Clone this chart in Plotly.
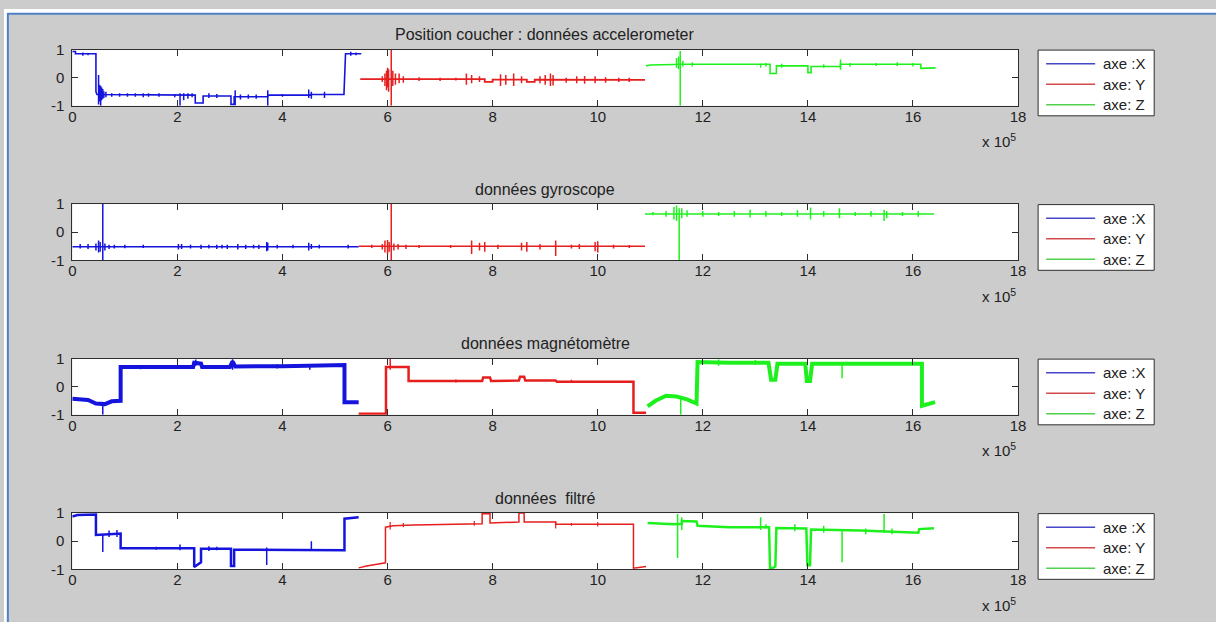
import plotly.graph_objects as go

# ---------------- data (x in units of 10^5 samples) ----------------
SUBPLOT_TITLES = ["Position coucher : données accelerometer", "données gyroscope",
                  "données magnétomètre", "données  filtré"]
LEGEND_NAMES = ["axe :X", "axe: Y", "axe: Z"]
X_TICKS = [0, 2, 4, 6, 8, 10, 12, 14, 16, 18]
Y_TICKS = [-1, 0, 1]
Y_TICK_TEXT = ["-1", "0", "1"]

# --- accelerometer ---
ACC_X_PX = [0, 0.06, 0.06, 0.45, 0.45, 0.47, 2.34, 2.34, 2.49, 2.49, 3.02, 3.02, 3.08, 3.08, 3.72, 3.72, 4.53, 4.53, 5.17, 5.2, 5.5]
ACC_X_PY = [0.93, 0.93, 0.85, 0.85, -0.5, -0.6, -0.62, -0.9, -0.9, -0.65, -0.65, -0.95, -0.95, -0.68, -0.68, -0.62, -0.62, -0.6, -0.6, 0.85, 0.85]
ACC_X_SX = [0.2, 0.3, 0.5, 0.52, 0.54, 0.56, 0.58, 0.6, 0.64, 0.75, 0.9, 1.05, 1.2, 1.35, 1.45, 1.65, 1.95, 2.05, 2.12, 2.2, 2.28, 2.6, 2.75, 3.1, 3.2, 3.35, 3.5, 3.72, 4.0, 4.5, 4.55, 4.8, 5.3, 5.4]
ACC_X_SLO = [0.78, 0.8, -0.95, -0.85, -1.0, -0.8, -0.75, -0.72, -0.7, -0.68, -0.68, -0.68, -0.68, -0.7, -0.68, -0.68, -0.7, -1.0, -0.8, -0.75, -0.7, -0.72, -0.72, -0.98, -0.78, -0.75, -0.75, -1.0, -0.68, -0.72, -0.75, -0.72, 0.78, 0.8]
ACC_X_SHI = [0.9, 0.88, 0.1, -0.25, -0.3, -0.35, -0.4, -0.48, -0.5, -0.55, -0.55, -0.55, -0.55, -0.55, -0.55, -0.55, -0.58, -0.55, -0.55, -0.55, -0.55, -0.55, -0.58, -0.45, -0.6, -0.6, -0.6, -0.45, -0.58, -0.42, -0.5, -0.5, 0.92, 0.9]

ACC_Y_PX = [5.48, 7.85, 7.85, 8.0, 8.0, 8.65, 8.65, 8.8, 8.8, 10.9]
ACC_Y_PY = [-0.05, -0.05, -0.15, -0.15, -0.07, -0.07, -0.15, -0.15, -0.07, -0.08]
ACC_Y_SX = [5.9, 5.95, 5.98, 6.0, 6.02, 6.07, 6.1, 6.15, 6.22, 6.3, 6.6, 7.0, 7.3, 7.5, 7.6, 7.75, 8.15, 8.25, 8.4, 8.55, 8.9, 9.0, 9.1, 9.15, 9.4, 9.6, 9.75, 9.95, 10.15, 10.4, 10.6]
ACC_Y_SLO = [-0.15, -0.3, -0.45, -0.35, -0.5, -1.0, -0.3, -0.25, -0.2, -0.18, -0.12, -0.12, -0.1, -0.25, -0.2, -0.15, -0.3, -0.25, -0.3, -0.2, -0.2, -0.25, -0.3, -0.28, -0.18, -0.2, -0.22, -0.2, -0.18, -0.15, -0.15]
ACC_Y_SHI = [0.05, 0.15, 0.25, 0.35, 0.3, 1.0, 0.25, 0.15, 0.15, 0.05, 0.02, 0.0, 0.0, 0.15, 0.1, 0.05, 0.12, 0.1, 0.15, 0.05, 0.05, 0.1, 0.15, 0.1, 0.0, 0.05, 0.06, 0.05, 0.02, 0.0, 0.0]

ACC_Z_PX = [10.92, 11.0, 11.45, 11.6, 13.28, 13.28, 13.4, 13.4, 14.0, 14.0, 14.06, 14.06, 14.62, 14.62, 16.15, 16.15, 16.43]
ACC_Z_PY = [0.42, 0.45, 0.47, 0.48, 0.48, 0.15, 0.15, 0.42, 0.42, 0.18, 0.18, 0.4, 0.4, 0.48, 0.48, 0.33, 0.35]
ACC_Z_SX = [11.5, 11.54, 11.57, 11.62, 11.8, 13.1, 13.2, 13.5, 14.3, 14.62, 14.8, 15.3, 15.7, 16.0]
ACC_Z_SLO = [0.35, 0.3, -1.0, 0.4, 0.4, 0.35, 0.4, 0.35, 0.35, 0.28, 0.4, 0.42, 0.42, 0.4]
ACC_Z_SHI = [0.7, 0.75, 0.95, 0.6, 0.55, 0.5, 0.52, 0.5, 0.48, 0.65, 0.52, 0.52, 0.55, 0.52]

# --- gyroscope ---
GYR_X_PX = [0, 5.45]
GYR_X_PY = [-0.52, -0.52]
GYR_X_SX = [0.15, 0.3, 0.45, 0.5, 0.53, 0.58, 0.62, 0.7, 0.8, 1.0, 1.35, 2.02, 2.08, 2.25, 2.45, 2.6, 2.75, 2.85, 2.95, 3.15, 3.3, 3.45, 3.55, 3.7, 3.72, 3.9, 4.2, 4.5, 4.55, 4.7, 5.25]
GYR_X_SLO = [-0.58, -0.6, -0.65, -0.72, -0.7, -1.0, -0.65, -0.6, -0.58, -0.57, -0.56, -0.62, -0.6, -0.58, -0.6, -0.58, -0.6, -0.58, -0.6, -0.62, -0.6, -0.58, -0.6, -0.68, -0.65, -0.58, -0.57, -0.65, -0.6, -0.58, -0.58]
GYR_X_SHI = [-0.42, -0.42, -0.4, -0.3, -0.35, 1.0, -0.4, -0.45, -0.45, -0.45, -0.45, -0.42, -0.42, -0.45, -0.45, -0.45, -0.45, -0.45, -0.45, -0.42, -0.45, -0.45, -0.45, -0.35, -0.38, -0.45, -0.45, -0.38, -0.42, -0.45, -0.45]

GYR_Y_PX = [5.45, 10.9]
GYR_Y_PY = [-0.5, -0.5]
GYR_Y_SX = [5.7, 5.9, 5.95, 6.0, 6.03, 6.07, 6.12, 6.2, 6.35, 6.6, 7.2, 7.6, 7.75, 7.85, 8.1, 8.55, 8.65, 8.9, 9.2, 9.5, 9.65, 9.95, 10.0, 10.3, 10.6]
GYR_Y_SLO = [-0.56, -0.62, -0.72, -0.78, -0.7, -1.0, -0.65, -0.62, -0.6, -0.56, -0.56, -0.78, -0.65, -0.7, -0.6, -0.65, -0.7, -0.62, -0.85, -0.58, -0.6, -0.68, -0.72, -0.58, -0.56]
GYR_Y_SHI = [-0.45, -0.42, -0.3, -0.28, -0.35, 1.0, -0.4, -0.42, -0.45, -0.46, -0.46, -0.3, -0.38, -0.35, -0.45, -0.38, -0.35, -0.42, -0.3, -0.45, -0.42, -0.35, -0.32, -0.45, -0.46]

GYR_Z_PX = [10.9, 16.4]
GYR_Z_PY = [0.65, 0.65]
GYR_Z_SX = [11.05, 11.3, 11.45, 11.5, 11.55, 11.6, 11.7, 12.0, 12.3, 12.6, 12.9, 13.2, 13.5, 13.8, 14.05, 14.3, 14.6, 14.9, 15.2, 15.45, 15.5, 15.8, 16.1]
GYR_Z_SLO = [0.6, 0.55, 0.45, 0.4, -1.0, 0.5, 0.55, 0.55, 0.58, 0.55, 0.52, 0.55, 0.58, 0.55, 0.45, 0.55, 0.5, 0.58, 0.55, 0.4, 0.5, 0.58, 0.55]
GYR_Z_SHI = [0.72, 0.75, 0.9, 0.95, 0.85, 0.85, 0.78, 0.75, 0.72, 0.75, 0.8, 0.75, 0.72, 0.78, 0.88, 0.75, 0.85, 0.72, 0.75, 0.8, 0.75, 0.72, 0.75]

# --- magnetometer ---
MAG_X_PX = [0, 0.3, 0.45, 0.62, 0.75, 0.92, 0.92, 1.5, 2.3, 2.32, 2.45, 2.47, 3.0, 3.05, 3.1, 4.0, 4.8, 5.18, 5.18, 5.45]
MAG_X_PY = [-0.43, -0.47, -0.6, -0.62, -0.52, -0.5, 0.7, 0.7, 0.7, 0.85, 0.82, 0.7, 0.7, 0.9, 0.72, 0.73, 0.77, 0.77, -0.55, -0.55]
MAG_X_SX = [0.58, 1.3, 2.35, 3.05, 3.9, 4.52]
MAG_X_SLO = [-1.0, 0.62, 0.75, 0.6, 0.65, 0.6]
MAG_X_SHI = [-0.55, 0.76, 0.97, 0.98, 0.8, 0.75]

MAG_Y_PX = [5.45, 5.97, 5.97, 6.4, 6.4, 7.8, 7.82, 7.95, 7.97, 8.5, 8.52, 8.6, 8.62, 9.2, 9.22, 10.68, 10.68, 10.92]
MAG_Y_PY = [-0.96, -0.96, 0.7, 0.7, 0.2, 0.2, 0.33, 0.33, 0.2, 0.22, 0.35, 0.35, 0.22, 0.22, 0.18, 0.18, -0.93, -0.93]
MAG_Y_SX = [6.05, 7.3, 9.5]
MAG_Y_SLO = [0.6, 0.15, 0.15]
MAG_Y_SHI = [1.0, 0.26, 0.25]

MAG_Z_PX = [10.95, 11.1, 11.3, 11.5, 11.7, 11.88, 11.9, 12.5, 13.25, 13.3, 13.38, 13.42, 13.95, 13.98, 14.04, 14.08, 16.17, 16.17, 16.42]
MAG_Z_PY = [-0.7, -0.5, -0.32, -0.35, -0.45, -0.6, 0.88, 0.85, 0.85, 0.25, 0.25, 0.82, 0.82, 0.2, 0.2, 0.82, 0.82, -0.68, -0.55]
MAG_Z_SX = [11.58, 12.3, 13.0, 14.65]
MAG_Z_SLO = [-1.0, 0.75, 0.78, 0.3]
MAG_Z_SHI = [-0.4, 0.97, 0.95, 0.85]

# --- filtered ---
FIL_X_PX = [0, 0.1, 0.45, 0.45, 0.7, 0.9, 0.92, 0.92, 2.32, 2.32, 2.45, 2.45, 3.02, 3.02, 3.08, 3.08, 5.18, 5.18, 5.45]
FIL_X_PY = [0.88, 0.93, 0.95, 0.22, 0.25, 0.27, 0.27, -0.25, -0.25, -0.92, -0.75, -0.27, -0.27, -0.88, -0.88, -0.3, -0.32, 0.8, 0.85]
FIL_X_SX = [0.58, 0.7, 0.85, 1.6, 2.05, 2.6, 2.75, 3.7, 4.55]
FIL_X_SLO = [-0.38, 0.15, 0.15, -0.3, -0.32, -0.35, -0.32, -0.85, -0.35]
FIL_X_SHI = [0.25, 0.38, 0.4, -0.2, -0.12, -0.18, -0.2, -0.22, 0.0]

FIL_Y_PX = [5.45, 5.6, 5.8, 5.96, 5.96, 6.1, 6.5, 7.2, 7.8, 7.8, 7.95, 7.95, 8.5, 8.5, 8.6, 8.6, 9.2, 9.2, 10.68, 10.68, 10.92]
FIL_Y_PY = [-0.95, -0.88, -0.82, -0.77, 0.5, 0.55, 0.58, 0.6, 0.62, 0.98, 0.98, 0.65, 0.68, 1.0, 1.0, 0.68, 0.68, 0.6, 0.6, -0.96, -0.9]
FIL_Y_SX = [6.05, 6.3, 7.65, 9.2, 9.5, 10.0]
FIL_Y_SLO = [0.42, 0.5, 0.55, 0.45, 0.55, 0.52]
FIL_Y_SHI = [0.68, 0.65, 0.72, 0.7, 0.65, 0.68]

FIL_Z_PX = [10.95, 11.45, 11.6, 11.6, 11.88, 11.9, 12.5, 13.26, 13.28, 13.38, 13.4, 13.97, 13.99, 14.04, 14.06, 15.0, 16.1, 16.12, 16.4]
FIL_Z_PY = [0.65, 0.6, 0.62, 0.72, 0.7, 0.55, 0.5, 0.5, -1.0, -0.9, 0.47, 0.45, -0.86, -0.86, 0.42, 0.38, 0.3, 0.43, 0.46]
FIL_Z_SX = [11.52, 11.6, 13.1, 13.2, 13.75, 14.3, 14.65, 15.1, 15.45, 15.6]
FIL_Z_SLO = [-0.6, 0.4, 0.4, 0.45, 0.35, 0.3, -0.75, 0.25, 0.3, 0.25]
FIL_Z_SHI = [0.97, 0.85, 0.85, 0.6, 0.6, 0.55, 0.4, 0.45, 0.97, 0.45]

# ---------------- style ----------------
FW, FH = 1228, 634
# measured relation between figure pixels and the photographed picture
SX, OX = 0.9894, 3.8
SY, OY = 0.97, 8.8
COLORS = ["#1414dc", "#e61e1e", "#1ef01e"]
LEGEND_COLORS = ["#4646c8", "#d24b4b", "#50d250"]
FONT = "Liberation Sans, Arial, sans-serif"
TXT = "#222222"
AX = "#2e2e2e"
BG = "#cccccc"
FRAME = "#4f81c7"

SUBPLOTS = [
    [(ACC_X_PX, ACC_X_PY, ACC_X_SX, ACC_X_SLO, ACC_X_SHI),
     (ACC_Y_PX, ACC_Y_PY, ACC_Y_SX, ACC_Y_SLO, ACC_Y_SHI),
     (ACC_Z_PX, ACC_Z_PY, ACC_Z_SX, ACC_Z_SLO, ACC_Z_SHI)],
    [(GYR_X_PX, GYR_X_PY, GYR_X_SX, GYR_X_SLO, GYR_X_SHI),
     (GYR_Y_PX, GYR_Y_PY, GYR_Y_SX, GYR_Y_SLO, GYR_Y_SHI),
     (GYR_Z_PX, GYR_Z_PY, GYR_Z_SX, GYR_Z_SLO, GYR_Z_SHI)],
    [(MAG_X_PX, MAG_X_PY, MAG_X_SX, MAG_X_SLO, MAG_X_SHI),
     (MAG_Y_PX, MAG_Y_PY, MAG_Y_SX, MAG_Y_SLO, MAG_Y_SHI),
     (MAG_Z_PX, MAG_Z_PY, MAG_Z_SX, MAG_Z_SLO, MAG_Z_SHI)],
    [(FIL_X_PX, FIL_X_PY, FIL_X_SX, FIL_X_SLO, FIL_X_SHI),
     (FIL_Y_PX, FIL_Y_PY, FIL_Y_SX, FIL_Y_SLO, FIL_Y_SHI),
     (FIL_Z_PX, FIL_Z_PY, FIL_Z_SX, FIL_Z_SLO, FIL_Z_SHI)],
]
LINE_WIDTHS = [[1.6, 1.8, 1.6], [1.5, 1.5, 1.5], [4, 2.5, 4], [2.5, 1.5, 2.5]]
SPIKE_WIDTHS = [[1.5, 1.5, 1.5], [1.5, 1.5, 1.5], [1.5, 1.5, 1.5], [1.5, 1.2, 1.5]]

# target picture geometry of the plot areas and legends
PX_LEFT, PX_RIGHT = 72, 1017
PX_TOPS = [49, 203, 357, 511]
PX_H = 56
LEG_X0, LEG_X1 = 1037, 1153
LEG_LINE_X0, LEG_LINE_X1, LEG_TEXT_X = 1045, 1094, 1100
LEG_ROWS = [14, 34.5, 55]
LEG_H = 66


def px(r):
    return (r / SX - OX) / FW


def py(r):
    return 1 - (r / SY - OY) / FH


fig = go.Figure()
layout = dict(
    width=FW, height=FH, margin=dict(l=0, r=0, t=0, b=0),
    paper_bgcolor=BG, plot_bgcolor="white", showlegend=False,
    font=dict(family=FONT, size=15, color=TXT),
)
annotations = []
shapes = []

for i, series in enumerate(SUBPLOTS):
    sfx = "" if i == 0 else str(i + 1)
    xa, ya = "x" + sfx, "y" + sfx
    for j, (pxs, pys, sx, slo, shi) in enumerate(series):
        fig.add_trace(go.Scatter(x=pxs, y=pys, mode="lines", xaxis=xa, yaxis=ya,
                                 name=LEGEND_NAMES[j],
                                 line=dict(color=COLORS[j], width=LINE_WIDTHS[i][j]),
                                 hoverinfo="skip"))
        spx, spy = [], []
        for xv, lo, hi in zip(sx, slo, shi):
            spx += [xv, xv, None]
            spy += [lo, hi, None]
        fig.add_trace(go.Scatter(x=spx, y=spy, mode="lines", xaxis=xa, yaxis=ya,
                                 name=LEGEND_NAMES[j],
                                 line=dict(color=COLORS[j], width=SPIKE_WIDTHS[i][j]),
                                 hoverinfo="skip", connectgaps=False))
    top = PX_TOPS[i]
    bot = top + PX_H
    axis_common = dict(showline=True, linecolor=AX, linewidth=1, mirror="ticks",
                       ticks="inside", ticklen=6, tickcolor=AX, tickwidth=1,
                       showgrid=False, zeroline=False,
                       tickfont=dict(family=FONT, size=15, color=TXT))
    layout["xaxis" + sfx] = dict(axis_common, domain=[px(PX_LEFT), px(PX_RIGHT)],
                                 range=[0, 18], tickvals=X_TICKS, anchor=ya,
                                 ticklabelstandoff=-3)
    layout["yaxis" + sfx] = dict(axis_common, domain=[py(bot), py(top)],
                                 range=[-1, 1], tickvals=Y_TICKS, ticktext=Y_TICK_TEXT, anchor=xa,
                                 ticklabelstandoff=4)
    annotations.append(dict(text=SUBPLOT_TITLES[i], xref="paper", yref="paper",
                            x=px((PX_LEFT + PX_RIGHT) / 2), y=py(top - 15),
                            xanchor="center", yanchor="middle", showarrow=False,
                            font=dict(family=FONT, size=16, color=TXT)))
    annotations.append(dict(text="x 10<sup>5</sup>", xref="paper", yref="paper",
                            x=px(1017), y=py(bot + 35), xanchor="right", yanchor="middle",
                            showarrow=False, font=dict(family=FONT, size=15, color=TXT)))
    # legend box of this subplot
    shapes.append(dict(type="rect", xref="paper", yref="paper",
                       x0=px(LEG_X0), x1=px(LEG_X1), y0=py(top + LEG_H), y1=py(top + 0.5),
                       fillcolor="white", line=dict(color=AX, width=1)))
    for j, name in enumerate(LEGEND_NAMES):
        yr = py(top + LEG_ROWS[j])
        shapes.append(dict(type="line", xref="paper", yref="paper",
                           x0=px(LEG_LINE_X0), x1=px(LEG_LINE_X1), y0=yr, y1=yr,
                           line=dict(color=LEGEND_COLORS[j], width=1.5)))
        annotations.append(dict(text=name, xref="paper", yref="paper",
                                x=px(LEG_TEXT_X), y=yr, xanchor="left", yanchor="middle",
                                showarrow=False, font=dict(family=FONT, size=15, color=TXT)))

# white surround and blue frame of the screenshot
shapes.append(dict(type="rect", xref="paper", yref="paper", x0=0, x1=px(7), y0=0, y1=1,
                   fillcolor="white", line=dict(width=0), layer="below"))
shapes.append(dict(type="rect", xref="paper", yref="paper", x0=0, x1=1, y0=1 - 4.0 / FH, y1=1,
                   fillcolor="white", line=dict(width=0), layer="below"))
shapes.append(dict(type="line", xref="paper", yref="paper", x0=px(7.6), x1=px(7.6), y0=0, y1=1 - 4.0 / FH,
                   line=dict(color=FRAME, width=2)))
shapes.append(dict(type="line", xref="paper", yref="paper", x0=px(7), x1=1, y0=1 - 5.0 / FH, y1=1 - 5.0 / FH,
                   line=dict(color=FRAME, width=2)))

layout["annotations"] = annotations
layout["shapes"] = shapes
fig.update_layout(**layout)

PAGE_JS = ("document.body.style.margin='0px';"
           "document.body.style.overflow='hidden';"
           "document.documentElement.style.overflow='hidden';")
fig.write_html("out.html", config={"displayModeBar": False}, post_script=PAGE_JS)
